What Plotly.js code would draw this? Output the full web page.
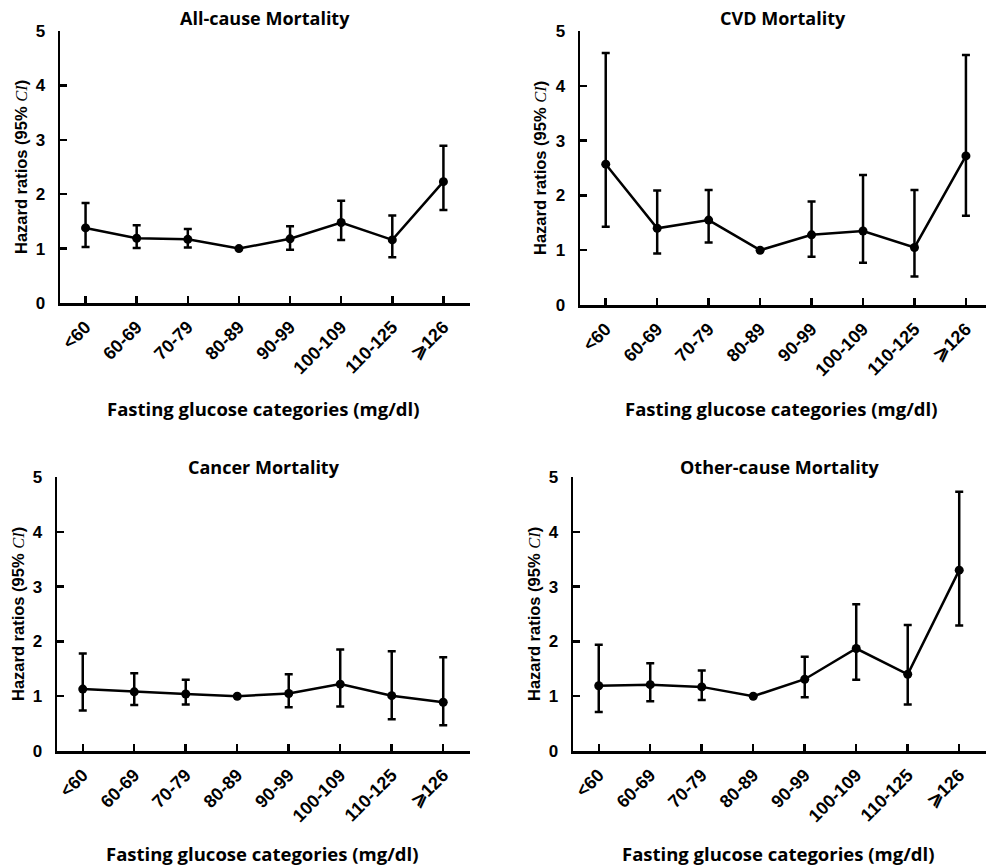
<!DOCTYPE html>
<html>
<head>
<meta charset="utf-8">
<script src="https://cdn.plot.ly/plotly-3.0.1.min.js"></script>
<style>html,body{margin:0;padding:0;background:#fff;}#chart{width:987px;height:867px;}</style>
</head>
<body>
<div id="chart"></div>
<script>
var categories = ["<60", "60-69", "70-79", "80-89", "90-99", "100-109", "110-125", "\u2A7E126"];

var panelTitles = ["All-cause Mortality", "CVD Mortality", "Cancer Mortality", "Other-cause Mortality"];

var allCauseHR    = [1.38, 1.19, 1.17, 1.00, 1.18, 1.48, 1.16, 2.23];
var allCauseLower = [1.03, 1.01, 1.02, 1.00, 0.98, 1.16, 0.84, 1.71];
var allCauseUpper = [1.84, 1.43, 1.36, 1.00, 1.41, 1.88, 1.61, 2.89];

var cvdHR    = [2.57, 1.40, 1.55, 1.00, 1.28, 1.35, 1.05, 2.72];
var cvdLower = [1.43, 0.94, 1.14, 1.00, 0.88, 0.77, 0.52, 1.63];
var cvdUpper = [4.60, 2.09, 2.10, 1.00, 1.89, 2.37, 2.10, 4.56];

var cancerHR    = [1.13, 1.08, 1.04, 1.00, 1.05, 1.22, 1.01, 0.89];
var cancerLower = [0.74, 0.84, 0.85, 1.00, 0.80, 0.81, 0.58, 0.47];
var cancerUpper = [1.78, 1.42, 1.30, 1.00, 1.40, 1.85, 1.82, 1.71];

var otherHR    = [1.19, 1.21, 1.17, 1.00, 1.31, 1.87, 1.40, 3.30];
var otherLower = [0.71, 0.91, 0.93, 1.00, 0.98, 1.30, 0.85, 2.29];
var otherUpper = [1.94, 1.60, 1.47, 1.00, 1.72, 2.68, 2.30, 4.73];

var yTicks = [0, 1, 2, 3, 4, 5];

var W = 987, H = 867;
function px(x){ return x / W; }
function py(y){ return 1 - y / H; }

var panels = [
  {hr: allCauseHR, lo: allCauseLower, up: allCauseUpper, xl: 60,  xr: 470, yt: 31,  yb: 303, xmax: 7.52, tOff: 13, xtOff: 105},
  {hr: cvdHR,      lo: cvdLower,      up: cvdUpper,      xl: 580, xr: 986, yt: 31,  yb: 305, xmax: 7.39, tOff: 13, xtOff: 103},
  {hr: cancerHR,   lo: cancerLower,   up: cancerUpper,   xl: 57,  xr: 470, yt: 477, yb: 751, xmax: 7.52, tOff: 10, xtOff: 102},
  {hr: otherHR,    lo: otherLower,    up: otherUpper,    xl: 573, xr: 986, yt: 477, yb: 751, xmax: 7.52, tOff: 10, xtOff: 102}
];

var data = [];
var layout = {
  width: W, height: H,
  margin: {l: 0, r: 0, t: 0, b: 0},
  paper_bgcolor: "#ffffff",
  plot_bgcolor: "#ffffff",
  showlegend: false,
  annotations: []
};

var sansFamily = "Arial";
var headFamily = "Open Sans";

panels.forEach(function(p, i){
  var sx = i === 0 ? "" : String(i + 1);
  var plus = p.up.map(function(u, k){ return u - p.hr[k]; });
  var minus = p.hr.map(function(h, k){ return h - p.lo[k]; });
  data.push({
    type: "scatter",
    mode: "lines+markers",
    x: categories,
    y: p.hr,
    xaxis: "x" + sx,
    yaxis: "y" + sx,
    line: {color: "#000", width: 2.5},
    marker: {color: "#000", size: 9},
    error_y: {type: "data", symmetric: false, array: plus, arrayminus: minus,
              color: "#000", thickness: 2.5, width: 4},
    cliponaxis: false,
    hoverinfo: "skip"
  });
  layout["xaxis" + sx] = {
    type: "category",
    categoryorder: "array",
    categoryarray: categories,
    domain: [px(p.xl), px(p.xr)],
    anchor: "y" + sx,
    range: [-0.5, p.xmax],
    showline: true, linecolor: "#000", linewidth: 2.5,
    ticks: "inside", ticklen: 7, tickwidth: 2.5, tickcolor: "#000",
    tickangle: -45,
    ticklabelstandoff: 4,
    tickfont: {family: sansFamily, size: 18, color: "#000", weight: "bold"},
    showgrid: false, zeroline: false, fixedrange: true
  };
  layout["yaxis" + sx] = {
    domain: [py(p.yb), py(p.yt)],
    anchor: "x" + sx,
    range: [0, 5],
    tickvals: yTicks,
    showline: true, linecolor: "#000", linewidth: 2.5,
    ticks: "inside", ticklen: 7, tickwidth: 2.5, tickcolor: "#000",
    ticklabelstandoff: 9,
    tickfont: {family: sansFamily, size: 17, color: "#000", weight: "bold"},
    showgrid: false, zeroline: false, fixedrange: true
  };
  var cx = (p.xl + p.xr) / 2;
  var cy = (p.yt + p.yb) / 2;
  layout.annotations.push({
    xref: "paper", yref: "paper", x: px(cx), y: py(p.yt - p.tOff),
    text: panelTitles[i], showarrow: false,
    xanchor: "center", yanchor: "middle",
    font: {family: headFamily, size: 18, color: "#000", weight: "bold"}
  });
  layout.annotations.push({
    xref: "paper", yref: "paper", x: px(p.xl - 39), y: py(cy),
    text: "Hazard ratios (95% <span style=\"font-family:'Liberation Serif',serif;font-style:italic;font-weight:normal\">CI</span>)",
    showarrow: false, textangle: -90,
    xanchor: "center", yanchor: "middle",
    font: {family: sansFamily, size: 16.5, color: "#000", weight: "bold"}
  });
  layout.annotations.push({
    xref: "paper", yref: "paper", x: px(cx - 2), y: py(p.yb + p.xtOff),
    text: "Fasting glucose categories (mg/dl)", showarrow: false,
    xanchor: "center", yanchor: "middle",
    font: {family: headFamily, size: 18.5, color: "#000", weight: "bold"}
  });
});

Plotly.newPlot("chart", data, layout, {displayModeBar: false, staticPlot: true});
</script>
</body>
</html>
